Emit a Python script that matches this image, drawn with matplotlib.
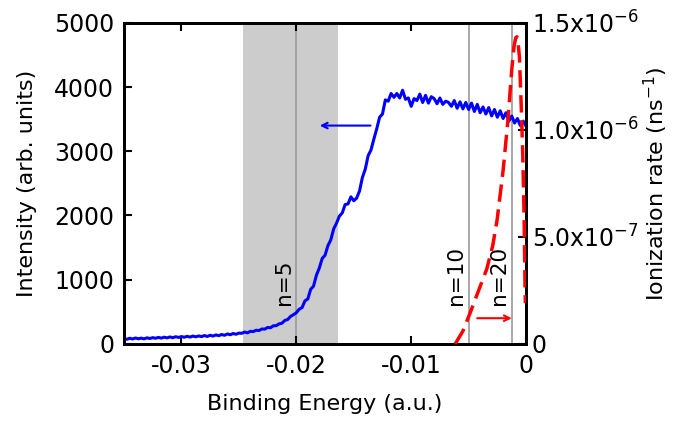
import numpy as np
import matplotlib.pyplot as plt

plt.rcParams['font.family'] = 'DejaVu Sans'
plt.rcParams['axes.unicode_minus'] = False

# measured spectrum (intensity), sampled every 0.00025 a.u. from -0.035 to 0
intensity = [
    80, 72, 88, 76, 92, 80, 90, 78, 95, 84,
    97, 88, 101, 90, 104, 94, 108, 96, 112, 100,
    114, 104, 118, 106, 122, 110, 124, 114, 130, 116,
    134, 122, 140, 128, 146, 134, 155, 142, 162, 150,
    168,
    165, 185, 172, 196, 192, 212, 208, 232, 230, 256,
    252, 282, 284, 312, 322, 365, 380, 428, 455, 485,
    540, 565, 670, 700, 850, 900, 1070, 1180, 1330, 1380,
    1530, 1620, 1790, 1880, 1990, 2040, 2170, 2180, 2290, 2230,
    2270, 2380, 2590, 2720, 2930, 3020, 3190, 3350, 3530, 3580,
    3800, 3780, 3900, 3840, 3900, 3830, 3950, 3810, 3830, 3700,
    3820, 3790, 3890, 3760, 3870, 3750, 3850, 3820, 3740, 3830,
    3730, 3780, 3760, 3700, 3790, 3670, 3770, 3660, 3760, 3650,
    3750, 3620, 3730, 3600, 3690, 3580, 3680, 3550, 3650, 3530,
    3630, 3510, 3600, 3470, 3550, 3440, 3510, 3400, 3470, 3390,
]
energy = np.linspace(-0.035, 0, len(intensity))

# calculated ionization rate (ns^-1)
rate_e = [-0.00617, -0.0055, -0.00487, -0.0042, -0.00342, -0.0029, -0.00252,
          -0.0020, -0.00157, -0.00125, -0.00105, -0.0009, -0.0008, -0.0007,
          -0.00058, -0.00043, -0.00029, -0.00017, -0.00009, -0.00006]
rate = [0.0, 0.06e-6, 0.145e-6, 0.24e-6, 0.35e-6, 0.46e-6, 0.58e-6,
        0.81e-6, 1.05e-6, 1.28e-6, 1.39e-6, 1.43e-6, 1.435e-6, 1.41e-6,
        1.34e-6, 1.125e-6, 0.89e-6, 0.58e-6, 0.27e-6, 0.19e-6]

# Rydberg levels -1/(2n^2)
levels = [5, 10, 20]
band = (-0.0246, -0.0164)

fig = plt.figure(figsize=(6.85, 4.23), dpi=100)
ax = fig.add_axes([0.181, 0.187, 0.587, 0.759])
ax2 = ax.twinx()

ax.axvspan(band[0], band[1], color='#cccccc', lw=0, zorder=0)
for n in levels:
    e = -1 / (2 * n**2)
    ax.axvline(e, color='#999999', lw=1.2, zorder=1)
    ax.text(e - 0.0002, 600, f'n={n}', rotation=90, ha='right', va='bottom',
            fontsize=15.5)

ax.plot(energy, intensity, color='#0000ff', lw=2.2, zorder=3)
ax2.plot(rate_e, rate, color='#ff0000', lw=2.5, dashes=(5, 2.2), zorder=3)

ax.annotate('', xy=(-0.0182, 3400), xytext=(-0.0133, 3400),
            arrowprops=dict(arrowstyle='->', color='#0000ff', lw=1.5))
ax.annotate('', xy=(-0.0010, 400), xytext=(-0.0045, 400),
            arrowprops=dict(arrowstyle='->', color='#ff0000', lw=1.5))

ax.set_xlim(-0.035, 0)
ax.set_ylim(0, 5000)
ax2.set_ylim(0, 1.5e-6)
ax.set_xticks([-0.03, -0.02, -0.01, 0])
ax.set_xticklabels(['-0.03', '-0.02', '-0.01', '0'])
ax.set_yticks([0, 1000, 2000, 3000, 4000, 5000])
ax2.set_yticks([0, 5e-7, 1e-6, 1.5e-6])
ax2.set_yticklabels(['0', r'5.0x10$^{-7}$', r'1.0x10$^{-6}$', r'1.5x10$^{-6}$'])

ax.tick_params(direction='in', length=6, width=1.5, labelsize=17, top=True, pad=7)
ax2.tick_params(direction='in', length=6, width=1.5, labelsize=17, pad=4)
for a in (ax, ax2):
    for s in a.spines.values():
        s.set_linewidth(2)

ax.set_xlabel('Binding Energy (a.u.)', fontsize=16, labelpad=12)
ax.set_ylabel('Intensity (arb. units)', fontsize=16, labelpad=12)
ax2.set_ylabel(r'Ionization rate (ns$^{-1}$)', fontsize=16, labelpad=2)

fig.savefig('out.png', dpi=100)
